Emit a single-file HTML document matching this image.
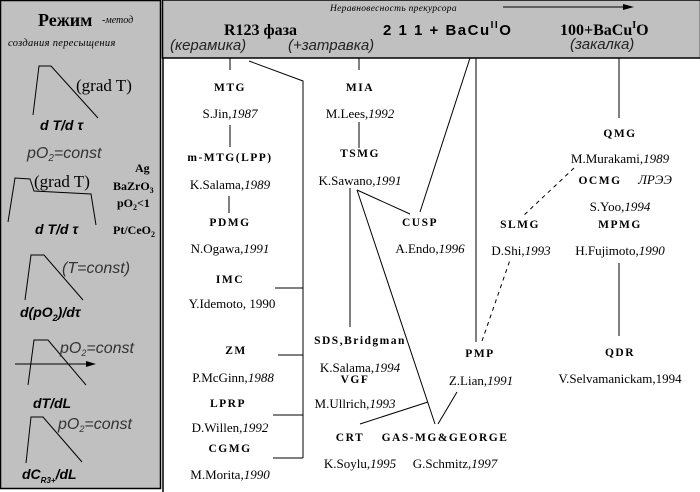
<!DOCTYPE html>
<html><head><meta charset="utf-8"><style>
html,body{margin:0;padding:0;background:#fff;}
svg{display:block;}
.b{font-family:"Liberation Serif",serif;font-weight:bold;font-size:11.5px;letter-spacing:1.5px;}
.n{font-family:"Liberation Serif",serif;font-size:13px;}
.i{font-style:italic;}
.ar{font-family:"Liberation Sans",sans-serif;font-weight:bold;font-style:italic;font-size:14px;}
.th{font-family:"Liberation Sans",sans-serif;font-style:italic;font-size:16px;fill:#333;font-weight:300;}
</style></head><body>
<svg width="700" height="492" viewBox="0 0 700 492" xmlns="http://www.w3.org/2000/svg">
<rect x="0.5" y="0.5" width="160" height="488" fill="#c0c0c0" stroke="#000" stroke-width="1.5"/>
<rect x="162.5" y="0" width="538" height="58" fill="#c0c0c0" stroke="#000" stroke-width="1.5"/>
<line x1="163" y1="58" x2="163" y2="492" stroke="#000" stroke-width="1.5"/>

<text x="38" y="26" font-family="Liberation Serif,serif" font-weight="bold" font-size="18">Режим</text>
<text x="102" y="23" font-family="Liberation Serif,serif" font-style="italic" font-size="10">-метод</text>
<text x="8" y="46" font-family="Liberation Serif,serif" font-style="italic" font-size="10.5" letter-spacing="0.3">создания пересыщения</text>

<g fill="none" stroke="#000" stroke-width="1">
<polyline points="33,115 39,66 51,66 98,118"/>
<polyline points="8,222 15,178 30,179 34,191 91,194 96,225"/>
<polyline points="25,300 31,255 44,255 83,300"/>
<polyline points="28,385 34,340 48,340 86,385"/>
<line x1="15" y1="364" x2="90" y2="364"/>
<polyline points="26,463 31,417 43,417 82,462"/>
</g>
<polygon points="96,364 86,361 86,367" fill="#000"/>

<text x="76" y="91" font-family="Liberation Serif,serif" font-size="17">(grad T)</text>
<text x="40" y="130" class="ar">d T/d τ</text>
<text x="27" y="158" class="th" font-size="17">pO<tspan font-size="10" dy="3">2</tspan><tspan dy="-3">=const</tspan></text>
<text x="34" y="187" font-family="Liberation Serif,serif" font-size="17">(grad T)</text>
<text x="35" y="234" class="ar">d T/d τ</text>
<text x="135" y="172" font-family="Liberation Serif,serif" font-weight="bold" font-size="12">Ag</text>
<text x="113" y="190" font-family="Liberation Serif,serif" font-weight="bold" font-size="12">BaZrO<tspan font-size="8" dy="3">3</tspan></text>
<text x="117" y="207" font-family="Liberation Serif,serif" font-weight="bold" font-size="12">pO<tspan font-size="8" dy="3">2</tspan><tspan dy="-3">&lt;1</tspan></text>
<text x="113" y="234" font-family="Liberation Serif,serif" font-weight="bold" font-size="12">Pt/CeO<tspan font-size="8" dy="3">2</tspan></text>
<text x="62" y="273" class="th" font-size="15">(T=const)</text>
<text x="20" y="317" class="ar">d(pO<tspan font-size="9" dy="4">2</tspan><tspan dy="-4">)/dτ</tspan></text>
<text x="60" y="353" class="th" font-size="15">pO<tspan font-size="9" dy="3">2</tspan><tspan dy="-3">=const</tspan></text>
<text x="33" y="408" class="ar">dT/dL</text>
<text x="58" y="429" class="th" font-size="15">pO<tspan font-size="9" dy="3">2</tspan><tspan dy="-3">=const</tspan></text>
<text x="22" y="479" class="ar">dC<tspan font-size="8" dy="4">R3+</tspan><tspan dy="-4">/dL</tspan></text>

<text x="330" y="11" font-family="Liberation Serif,serif" font-style="italic" font-size="9.5" letter-spacing="0.3">Неравновесность прекурсора</text>
<line x1="503" y1="7" x2="625" y2="7" stroke="#000"/>
<polygon points="634,7 623,4 623,10" fill="#000"/>
<text x="224" y="35" font-family="Liberation Serif,serif" font-weight="bold" font-size="16">R123 фаза</text>
<text x="170" y="50" font-family="Liberation Sans,sans-serif" font-style="italic" font-size="15" font-weight="300" fill="#222">(керамика)</text>
<text x="288" y="50" font-family="Liberation Sans,sans-serif" font-style="italic" font-size="15" font-weight="300" fill="#222">(+затравка)</text>
<text x="383" y="35" font-family="Liberation Sans,sans-serif" font-weight="bold" font-size="15" letter-spacing="1.5">2 1 1 + BaCu<tspan font-size="10" dy="-7">II</tspan><tspan dy="7">O</tspan></text>
<text x="560" y="35" font-family="Liberation Serif,serif" font-weight="bold" font-size="16">100+BaCu<tspan font-size="10" dy="-7">I</tspan><tspan dy="7">O</tspan></text>
<text x="570" y="49" font-family="Liberation Sans,sans-serif" font-style="italic" font-size="15" font-weight="300" fill="#222">(закалка)</text>

<g stroke="#000" stroke-width="1" fill="none">
<line x1="230" y1="58" x2="230" y2="70"/>
<polyline points="249,61 303,81 303,458"/>
<line x1="230" y1="125" x2="230" y2="147"/>
<line x1="229" y1="196" x2="229" y2="213"/>
<line x1="275" y1="288" x2="303" y2="288"/>
<line x1="278" y1="355" x2="303" y2="355"/>
<line x1="273" y1="415" x2="303" y2="415"/>
<line x1="273" y1="458" x2="303" y2="458"/>
<line x1="359" y1="58" x2="359" y2="70"/>
<line x1="359" y1="122" x2="359" y2="148"/>
<line x1="350" y1="188" x2="350" y2="327"/>
<line x1="357" y1="190" x2="410" y2="214"/>
<line x1="357" y1="190" x2="435" y2="424"/>
<line x1="470" y1="58" x2="420" y2="212"/>
<line x1="476" y1="58" x2="476" y2="342"/>
<line x1="619" y1="58" x2="619" y2="118"/>
<line x1="619" y1="263" x2="619" y2="336"/>
<line x1="457" y1="392" x2="438" y2="424"/>
<line x1="360" y1="424" x2="428" y2="402"/>
<line x1="482" y1="341" x2="510" y2="260" stroke-dasharray="4,4"/>
<line x1="574" y1="168" x2="522" y2="217" stroke-dasharray="4,4"/>
</g>

<g text-anchor="middle">
<text class="b" x="230" y="91">MTG</text>
<text class="n" x="230" y="118">S.Jin,<tspan class="i">1987</tspan></text>
<text class="b" x="230" y="161">m-MTG(LPP)</text>
<text class="n" x="230" y="189">K.Salama,<tspan class="i">1989</tspan></text>
<text class="b" x="230" y="226">PDMG</text>
<text class="n" x="230" y="253">N.Ogawa,<tspan class="i">1991</tspan></text>
<text class="b" x="230" y="283">IMC</text>
<text class="n" x="232" y="308">Y.Idemoto, 1990</text>
<text class="b" x="236" y="354">ZM</text>
<text class="n" x="233" y="382">P.McGinn,<tspan class="i">1988</tspan></text>
<text class="b" x="228" y="407">LPRP</text>
<text class="n" x="230" y="432">D.Willen,<tspan class="i">1992</tspan></text>
<text class="b" x="230" y="452">CGMG</text>
<text class="n" x="230" y="479">M.Morita,<tspan class="i">1990</tspan></text>

<text class="b" x="360" y="91">MIA</text>
<text class="n" x="360" y="118">M.Lees,<tspan class="i">1992</tspan></text>
<text class="b" x="360" y="157">TSMG</text>
<text class="n" x="360" y="185">K.Sawano,<tspan class="i">1991</tspan></text>
<text class="b" x="420" y="226">CUSP</text>
<text class="n" x="430" y="253">A.Endo,<tspan class="i">1996</tspan></text>
<text class="b" x="360" y="344">SDS,Bridgman</text>
<text class="n" x="360" y="372">K.Salama,<tspan class="i">1994</tspan></text>
<text class="b" x="355" y="383">VGF</text>
<text class="n" x="355" y="408">M.Ullrich,<tspan class="i">1993</tspan></text>
<text class="b" x="350" y="441">CRT</text>
<text class="b" x="445" y="441">GAS-MG&amp;GEORGE</text>
<text class="n" x="360" y="468">K.Soylu,<tspan class="i">1995</tspan></text>
<text class="n" x="455" y="468">G.Schmitz,<tspan class="i">1997</tspan></text>
<text class="b" x="480" y="357">PMP</text>
<text class="n" x="481" y="385">Z.Lian,<tspan class="i">1991</tspan></text>
<text class="b" x="520" y="228">SLMG</text>
<text class="n" x="521" y="255">D.Shi,<tspan class="i">1993</tspan></text>
<text class="b" x="620" y="137">QMG</text>
<text class="n" x="620" y="163">M.Murakami,<tspan class="i">1989</tspan></text>
<text class="b" x="600" y="184">OCMG</text>
<text class="n i" x="655" y="184" font-size="12">ЛРЭЭ</text>
<text class="n" x="620" y="211">S.Yoo,<tspan class="i">1994</tspan></text>
<text class="b" x="620" y="228">MPMG</text>
<text class="n" x="620" y="255">H.Fujimoto,<tspan class="i">1990</tspan></text>
<text class="b" x="620" y="356">QDR</text>
<text class="n" x="620" y="383">V.Selvamanickam,1994</text>
</g>
</svg>
</body></html>
